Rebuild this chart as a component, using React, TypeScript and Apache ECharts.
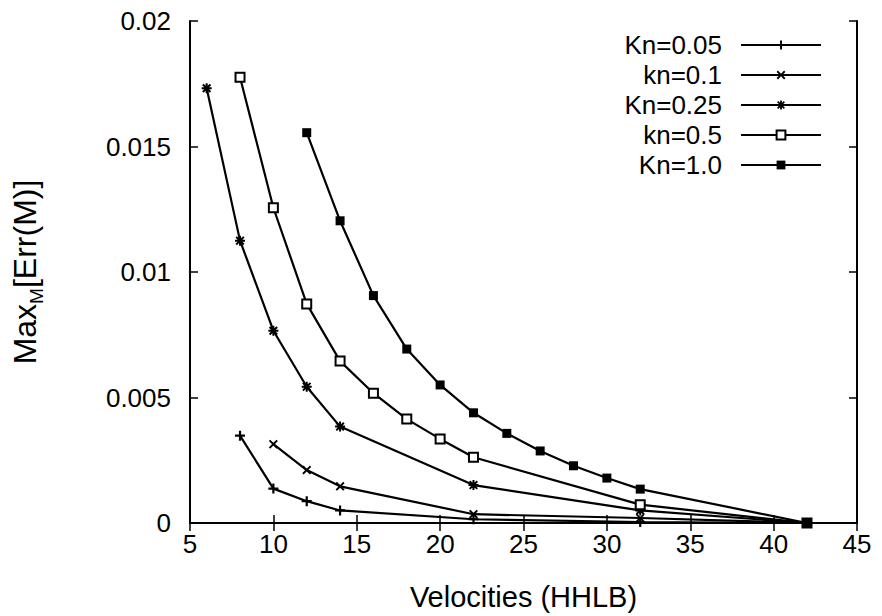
import React, { useEffect, useRef } from "react";
import * as echarts from "echarts";

const seriesNames = ["Kn=0.05", "kn=0.1", "Kn=0.25", "kn=0.5", "Kn=1.0"];

const kn005X = [8, 10, 12, 14, 22, 32, 42];
const kn005Y = [0.00348, 0.00137, 0.00087, 0.0005, 0.00015, 0.00004, 0];

const kn01X = [10, 12, 14, 22, 32, 42];
const kn01Y = [0.00314, 0.00211, 0.00146, 0.00035, 0.0002, 0];

const kn025X = [6, 8, 10, 12, 14, 22, 32, 42];
const kn025Y = [0.01732, 0.01125, 0.00766, 0.00543, 0.00384, 0.00151, 0.0005, 0];

const kn05X = [8, 10, 12, 14, 16, 18, 20, 22, 32, 42];
const kn05Y = [0.01776, 0.01256, 0.00873, 0.00645, 0.00517, 0.00414, 0.00335, 0.00262, 0.00073, 0];

const kn10X = [12, 14, 16, 18, 20, 22, 24, 26, 28, 30, 32, 42];
const kn10Y = [0.01555, 0.01204, 0.00906, 0.00693, 0.0055, 0.00439, 0.00357, 0.00287, 0.00228, 0.00179, 0.00135, 0];

const xTitle = "Velocities (HHLB)";

const FONT = "Liberation Sans, Arial, Helvetica, sans-serif";

const PLUS = "path://M3.9,0 L6.1,0 L6.1,3.9 L10,3.9 L10,6.1 L6.1,6.1 L6.1,10 L3.9,10 L3.9,6.1 L0,6.1 L0,3.9 L3.9,3.9 Z";
const CROSS =
  "path://M0,1.5 L1.5,0 L5,3.5 L8.5,0 L10,1.5 L6.5,5 L10,8.5 L8.5,10 L5,6.5 L1.5,10 L0,8.5 L3.5,5 Z";
const STAR =
  "path://M4,0 L6,0 L6,4 L10,4 L10,6 L6,6 L6,10 L4,10 L4,6 L0,6 L0,4 L4,4 Z M0.5,1.9 L1.9,0.5 L5,3.6 L8.1,0.5 L9.5,1.9 L6.4,5 L9.5,8.1 L8.1,9.5 L5,6.4 L1.9,9.5 L0.5,8.1 L3.6,5 Z";

function zip(xs: number[], ys: number[]) {
  return xs.map((x, i) => [x, ys[i]]);
}

export default function App() {
  const ref = useRef<HTMLDivElement>(null);
  useEffect(() => {
    if (!ref.current) return;
    const chart = echarts.init(ref.current, undefined, { renderer: "svg" });
    const axisLine = { show: true, lineStyle: { color: "#000", width: 2 } };
    const tick = { show: true, inside: true, length: 8, lineStyle: { color: "#000", width: 1.5 } };
    const mk = (name: string, data: number[][], symbol: string, size: number, extra: any = {}) => ({
      type: "line",
      name,
      data,
      symbol,
      symbolSize: size,
      showAllSymbol: true,
      lineStyle: { color: "#000", width: 2.2 },
      itemStyle: { color: "#000", borderColor: "#000", borderWidth: 0, ...extra },
      emphasis: { disabled: true },
      z: 3,
    });
    chart.setOption({
      animation: false,
      backgroundColor: "#fff",
      textStyle: { fontFamily: FONT },
      grid: { left: 190, right: 25, top: 21, bottom: 93, outerBoundsMode: "none", containLabel: false },
      legend: {
        orient: "vertical",
        right: 60,
        top: 32,
        padding: 0,
        align: "right",
        itemWidth: 80,
        itemHeight: 11,
        itemGap: 4,
        selectedMode: false,
        data: seriesNames,
        textStyle: { fontFamily: FONT, fontSize: 26, color: "#000", padding: [0, 14, 0, 0] },
      },
      xAxis: [
        {
          type: "value",
          min: 5,
          max: 45,
          interval: 5,
          position: "bottom",
          name: xTitle,
          nameLocation: "middle",
          nameGap: 59,
          nameTextStyle: { fontFamily: FONT, fontSize: 29, color: "#000" },
          axisLine,
          axisTick: tick,
          splitLine: { show: false },
          axisLabel: { fontFamily: FONT, fontSize: 26, color: "#000", margin: 8 },
        },
        {
          type: "value",
          min: 5,
          max: 45,
          interval: 5,
          position: "top",
          axisLine,
          axisTick: tick,
          splitLine: { show: false },
          axisLabel: { show: false },
        },
      ],
      yAxis: [
        {
          type: "value",
          min: 0,
          max: 0.02,
          interval: 0.005,
          position: "left",
          name: "{a|Max}{s|M}{a|[Err(M)]}",
          nameLocation: "middle",
          nameGap: 144,
          nameTextStyle: {
            fontFamily: FONT,
            fontSize: 32,
            color: "#000",
            rich: {
              a: { fontFamily: FONT, fontSize: 32, lineHeight: 42, color: "#000" },
              s: { fontFamily: FONT, fontSize: 19, lineHeight: 12, verticalAlign: "bottom", color: "#000" },
            },
          },
          axisLine,
          axisTick: tick,
          splitLine: { show: false },
          axisLabel: { fontFamily: FONT, fontSize: 26, color: "#000", margin: 19 },
        },
        {
          type: "value",
          min: 0,
          max: 0.02,
          interval: 0.005,
          position: "right",
          axisLine,
          axisTick: tick,
          splitLine: { show: false },
          axisLabel: { show: false },
        },
      ],
      series: [
        mk(seriesNames[0], zip(kn005X, kn005Y), PLUS, 10),
        mk(seriesNames[1], zip(kn01X, kn01Y), CROSS, 9),
        mk(seriesNames[2], zip(kn025X, kn025Y), STAR, 10),
        mk(seriesNames[3], zip(kn05X, kn05Y), "emptyRect", 9, { borderWidth: 1.8 }),
        mk(seriesNames[4], zip(kn10X, kn10Y), "rect", 9),
      ],
    });
    return () => chart.dispose();
  }, []);
  return <div ref={ref} style={{ width: 882, height: 616, position: "absolute", left: 0, top: 0 }} />;
}
